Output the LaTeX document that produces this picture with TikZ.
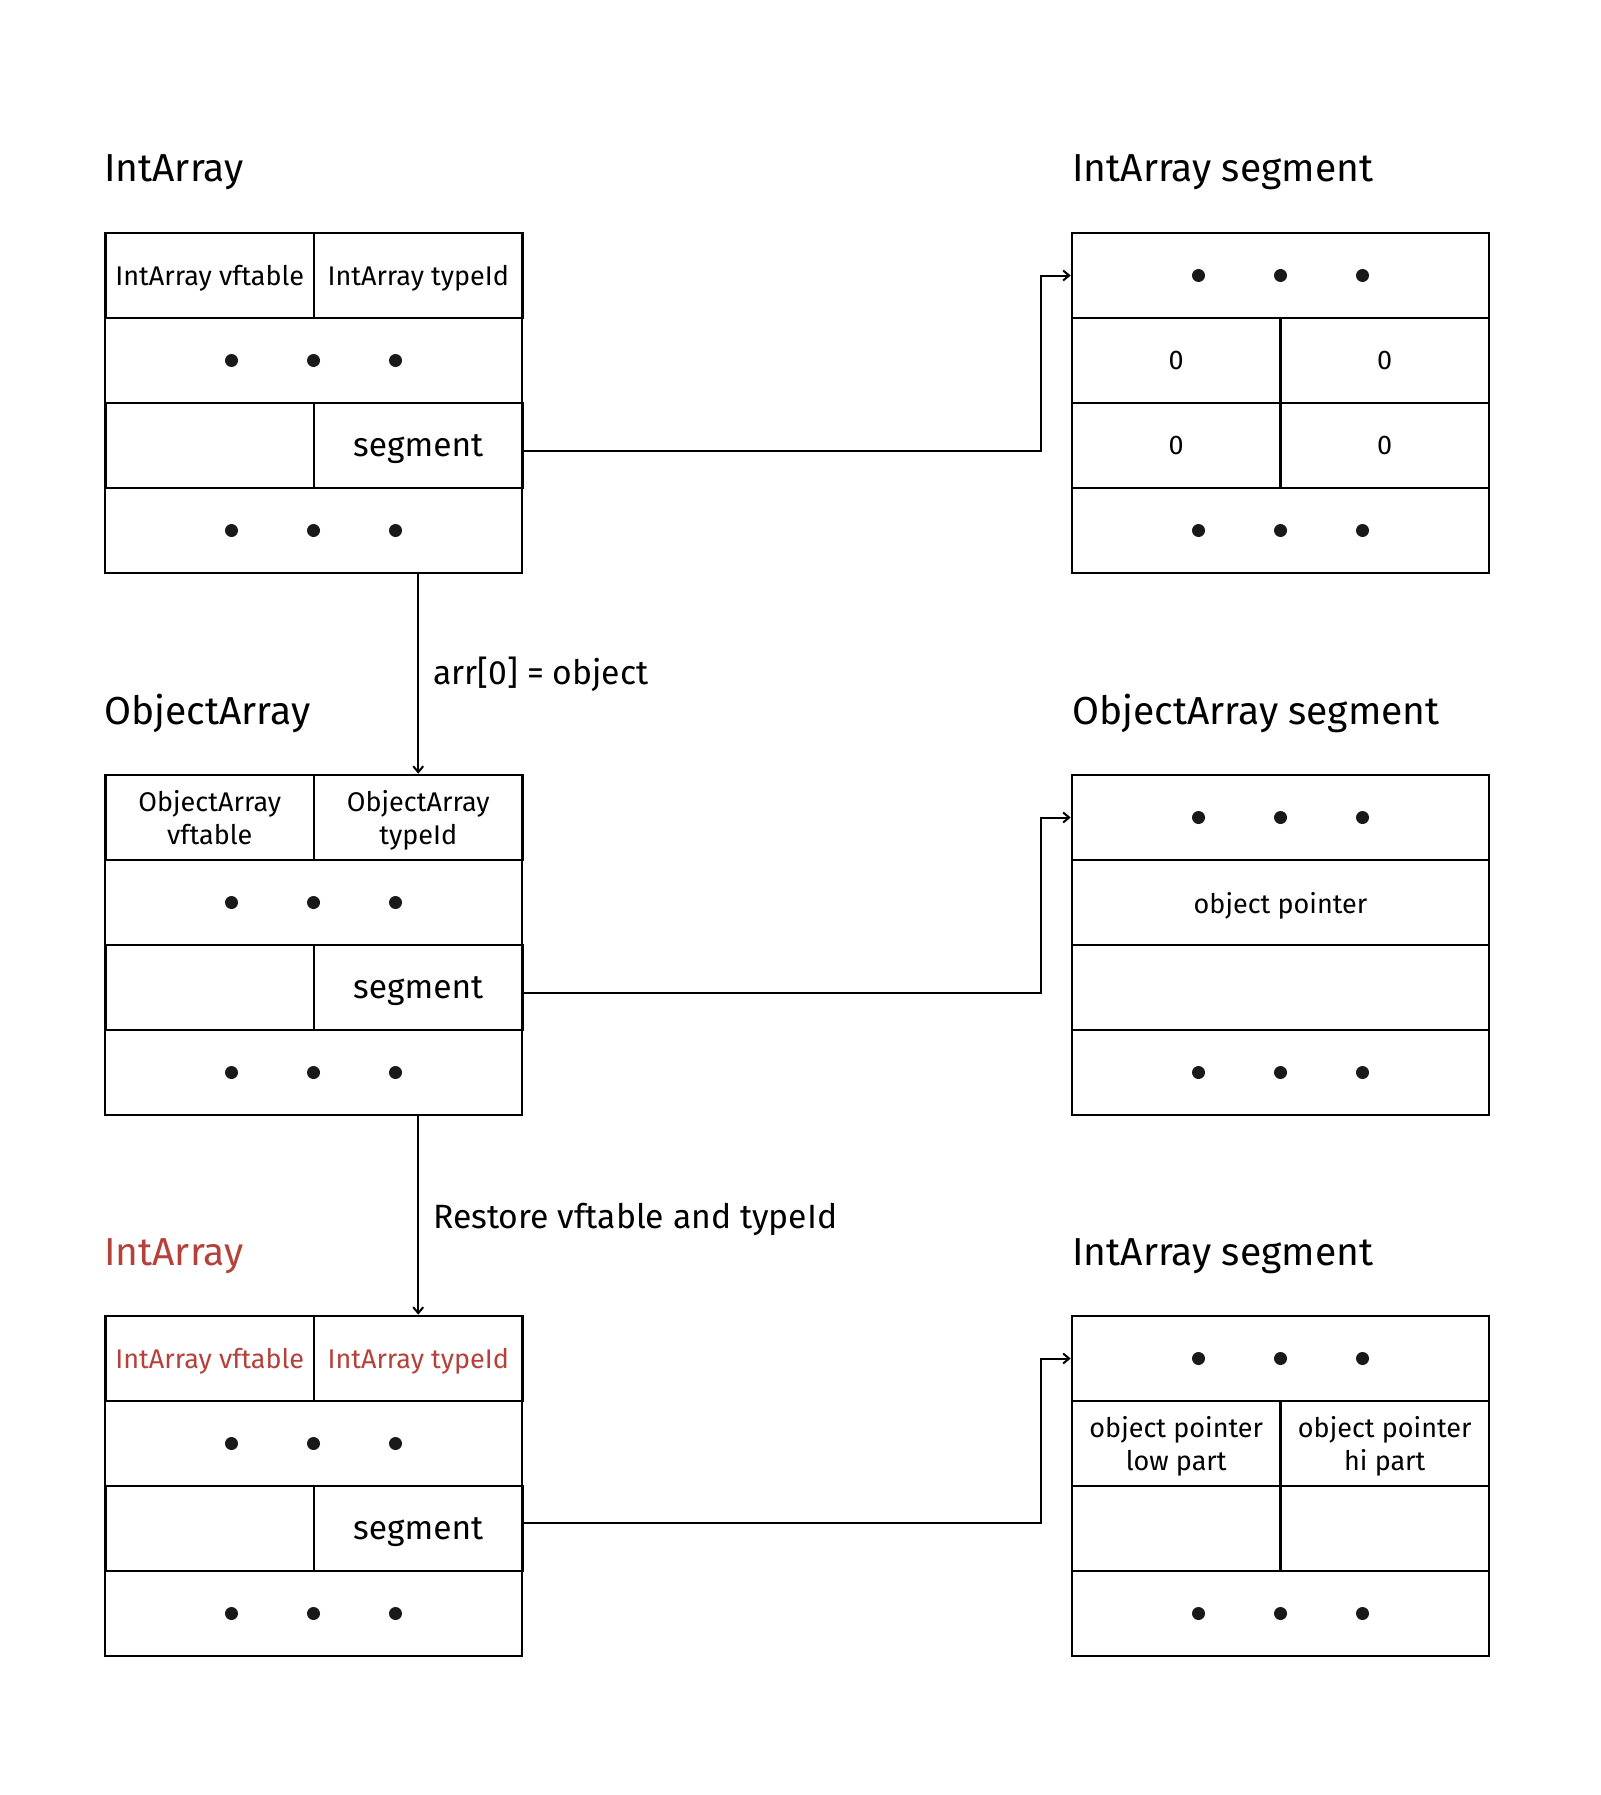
\documentclass[tikz,border=0pt]{standalone}
\usepackage{fontspec}
\setmainfont{Fira Sans}
\usetikzlibrary{arrows.meta,positioning}
\definecolor{restred}{RGB}{181,66,58}

\begin{document}
\begin{tikzpicture}[x=1pt, y=-1pt,
  every node/.style={font=\fontsize{27}{33}\selectfont},
  cell/.style={draw, line width=2.6pt, minimum height=85pt, inner sep=0pt,
               text depth=0pt, align=center},
  half/.style={cell, minimum width=208.5pt},
  full/.style={cell, minimum width=417pt},
  seg/.style={half, font=\fontsize{33.5}{40}\selectfont},
  ttl/.style={anchor=base west, inner sep=0pt, font=\fontsize{39}{47}\selectfont},
  lbl/.style={right=14pt, inner sep=0pt, font=\fontsize{33.7}{40}\selectfont},
  ar/.style={-{Straight Barb[length=6pt,width=10pt]}, line width=2pt}]

\useasboundingbox (0,0) rectangle (1600,1795);

%% --- Titles ---
\node[ttl] (TA)  at (104,  182) {IntArray};
\node[ttl] (TSA) at (1072, 182) {IntArray segment};
\node[ttl] (TB)  at (104,  724) {ObjectArray};
\node[ttl] (TSB) at (1072, 724) {ObjectArray segment};
\node[ttl, text=restred] (TC) at (104, 1265) {IntArray};
\node[ttl] (TSC) at (1072,1265) {IntArray segment};

%% --- IntArray (top left) ---
\node[half] (A1L) at (209.75, 275.5) {IntArray vftable};
\node[half] (A1R) at (418.25, 275.5) {IntArray typeId};
\node[full] (A2)  at (313.5,  360.5) {};
\node[half] (A3L) at (209.75, 445.5) {};
\node[seg]  (A3R) at (418.25, 445.5) {segment};
\node[full] (A4)  at (313.5,  530.5) {};

%% --- ObjectArray (middle left) ---
\node[half] (B1L) at (209.75, 817.5) {ObjectArray\\vftable};
\node[half] (B1R) at (418.25, 817.5) {ObjectArray\\typeId};
\node[full] (B2)  at (313.5,  902.5) {};
\node[half] (B3L) at (209.75, 987.5) {};
\node[seg]  (B3R) at (418.25, 987.5) {segment};
\node[full] (B4)  at (313.5, 1072.5) {};

%% --- Restored IntArray (bottom left) ---
\node[half, text=restred] (C1L) at (209.75,1358.5) {IntArray vftable};
\node[half, text=restred] (C1R) at (418.25,1358.5) {IntArray typeId};
\node[full] (C2)  at (313.5, 1443.5) {};
\node[half] (C3L) at (209.75,1528.5) {};
\node[seg]  (C3R) at (418.25,1528.5) {segment};
\node[full] (C4)  at (313.5, 1613.5) {};

%% --- IntArray segment (top right) ---
\node[full] (SA1)  at (1280.5,  275.5) {};
\node[half] (SA2L) at (1176.25, 360.5) {0};
\node[half] (SA2R) at (1384.75, 360.5) {0};
\node[half] (SA3L) at (1176.25, 445.5) {0};
\node[half] (SA3R) at (1384.75, 445.5) {0};
\node[full] (SA4)  at (1280.5,  530.5) {};

%% --- ObjectArray segment (middle right) ---
\node[full] (SB1) at (1280.5,  817.5) {};
\node[full] (SB2) at (1280.5,  902.5) {object pointer};
\node[full] (SB3) at (1280.5,  987.5) {};
\node[full] (SB4) at (1280.5, 1072.5) {};

%% --- IntArray segment (bottom right) ---
\node[full] (SC1)  at (1280.5, 1358.5) {};
\node[half] (SC2L) at (1176.25,1443.5) {object pointer\\low part};
\node[half] (SC2R) at (1384.75,1443.5) {object pointer\\hi part};
\node[half] (SC3L) at (1176.25,1528.5) {};
\node[half] (SC3R) at (1384.75,1528.5) {};
\node[full] (SC4)  at (1280.5, 1613.5) {};

%% --- Dots ---
\foreach \n in {A2,A4,B2,B4,C2,C4,SA1,SA4,SB1,SB4,SC1,SC4}
  \foreach \dx in {-82,0,82}
    \fill[black!90] ([xshift=\dx pt]\n.center) circle (6.5pt);

%% --- Arrows: segment pointers ---
\draw[ar] ([yshift=-5pt]A3R.east) -- ++(517,0) |- (SA1.west);
\draw[ar] ([yshift=-5pt]B3R.east) -- ++(517,0) |- (SB1.west);
\draw[ar] ([yshift=6pt]C3R.east)  -- ++(517,0) |- (SC1.west);

%% --- Arrows: steps ---
\draw[ar] (A4.south -| B1R.north) -- node[lbl]{arr[0] = object} (B1R.north);
\draw[ar] (B4.south -| C1R.north) -- node[lbl, yshift=-4pt]{Restore vftable and typeId} (C1R.north);
\end{tikzpicture}
\end{document}
